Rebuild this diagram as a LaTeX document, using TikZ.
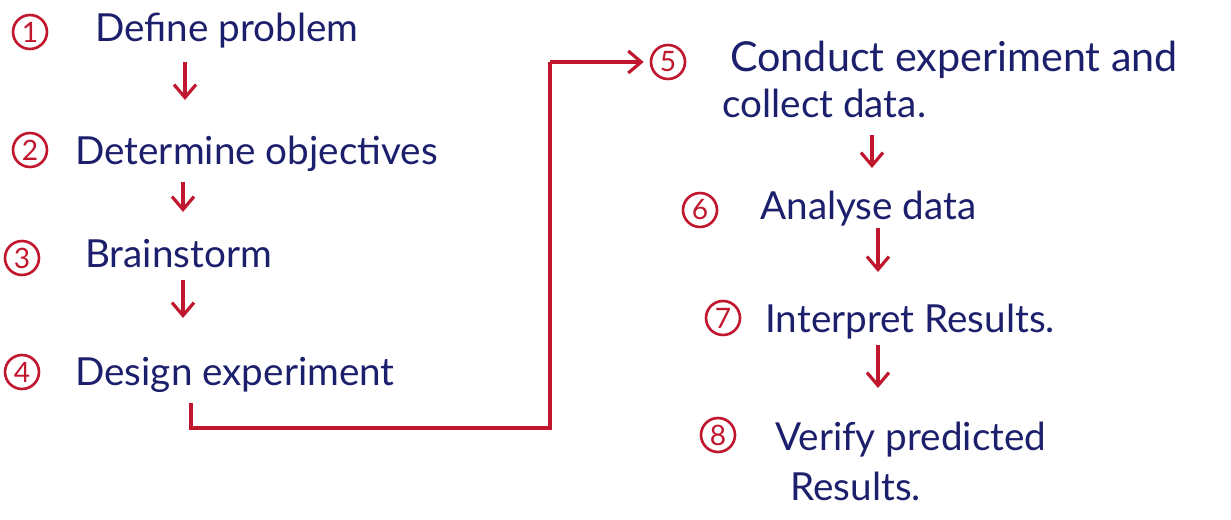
\documentclass[tikz,border=0pt]{standalone}
\usepackage{fontspec}
\setmainfont{Lato}
\usetikzlibrary{arrows.meta}
\definecolor{ink}{HTML}{1C1F6B}
\definecolor{redink}{HTML}{C0172E}
\tikzset{
  txt/.style={anchor=base west, inner sep=0pt, text=ink, font=\fontsize{22}{26}\selectfont},
  num/.style={circle, draw=redink, line width=1.5pt, minimum size=0.68cm, inner sep=0pt, text=redink, font=\fontsize{16}{16}\selectfont},
  arr/.style={draw=redink, line width=1.8pt, -{Straight Barb[length=2.6mm,width=4.4mm,line width=1.8pt]}},
  link/.style={draw=redink, line width=1.8pt}
}
\begin{document}
\begin{tikzpicture}[x=0.02cm,y=-0.02cm]
\useasboundingbox (0,0) rectangle (1231,520);
% left column
\node[num] (c1) at (30,32) {1};
\node[txt] (t1) at (95,42) {Define problem};
\node[num] (c2) at (30,150) {2};
\node[txt] (t2) at (75,165) {Determine objectives};
\node[num] (c3) at (22,258) {3};
\node[txt] (t3) at (85,268) {Brainstorm};
\node[num] (c4) at (22,372) {4};
\node[txt] (t4) at (75,385) {Design experiment};
% right column
\node[num] (c5) at (668,62) {5};
\node[txt, font=\fontsize{23.5}{28}\selectfont] (t5a) at (730,72) {Conduct experiment and};
\node[txt] (t5b) at (722,118) {collect data.};
\node[num] (c6) at (700,210) {6};
\node[txt] (t6) at (760,220) {Analyse data};
\node[num] (c7) at (723,318) {7};
\node[txt] (t7) at (765,333) {Interpret Results.};
\node[num] (c8) at (718,435) {8};
\node[txt] (t8a) at (775,450) {Verify predicted};
\node[txt] (t8b) at (790,500) {Results.};
% arrow points
\coordinate (a1s) at (185,62);  \coordinate (a1e) at (185,100);
\coordinate (a2s) at (183,182); \coordinate (a2e) at (183,212);
\coordinate (a3s) at (183,280); \coordinate (a3e) at (183,318);
\coordinate (a5s) at (872,135); \coordinate (a5e) at (872,168);
\coordinate (a6s) at (878,228); \coordinate (a6e) at (878,272);
\coordinate (a7s) at (878,345); \coordinate (a7e) at (878,388);
\draw[arr] (a1s) -- (a1e);
\draw[arr] (a2s) -- (a2e);
\draw[arr] (a3s) -- (a3e);
\draw[arr] (a5s) -- (a5e);
\draw[arr] (a6s) -- (a6e);
\draw[arr] (a7s) -- (a7e);
% loop connector
\coordinate (b0) at (191,403);
\draw[link] (b0) -- (191,428) -- (550,428) -- (550,62);
\draw[arr] (550,62) -- ([xshift=-0.12cm]c5.west);
\end{tikzpicture}
\end{document}
